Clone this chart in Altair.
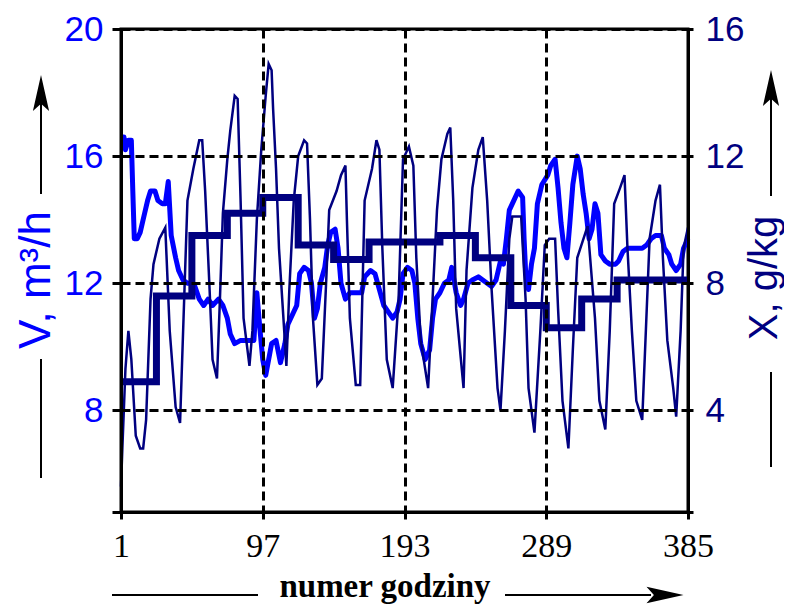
import altair as alt
import pandas as pd

# ---- data ----
# thin navy line: hourly X, g/kg (right axis)
x_hours = [1,2,4,6,8,11,14,16,18,21,23,27,31,34,38,41,44,46,50,54,
           56,58,61,63,66,68,70,73,75,78,80,82,84,88,90,93,96,99,101,103,
           104,106,108,111,113,115,118,121,125,127,129,131,134,137,140,142,147,150,153,154,
           156,160,163,166,171,174,176,178,181,185,189,192,196,199,201,204,209,212,215,218,
           222,224,226,228,233,235,239,243,246,249,252,256,258,261,264,266,272,275,277,281,
           285,288,291,295,297,300,304,307,310,317,322,325,329,332,335,339,342,344,347,350,
           354,359,363,366,368,371,375,377,380,382,385]
x_vals = [1.6,2.9,5.3,6.5,5.6,3.2,2.8,2.8,3.7,7.5,
          8.6,9.4,9.75,6.5,4.1,3.6,7.8,10.6,11.6,12.5,
          12.5,10.9,7.8,5.6,5.0,7.5,10.2,11.9,12.8,13.9,
          13.8,10.6,6.9,5.4,6.5,10.0,12.2,13.9,14.9,14.7,
          13.5,11.6,9.1,6.9,5.4,7.8,10.6,12.0,12.5,12.4,
          10.0,6.9,4.8,5.0,8.1,10.3,10.9,11.4,11.7,10.0,
          6.9,4.8,4.8,10.6,11.6,12.5,12.2,9.1,5.6,4.7,
          7.5,11.9,12.3,11.7,8.8,6.2,4.7,7.5,10.3,11.9,
          12.7,12.9,10.6,7.2,4.7,8.4,11.0,12.2,12.6,10.6,
          7.8,4.7,4.0,6.5,9.4,10.1,10.1,7.5,4.7,3.3,
          6.5,9.2,9.4,9.4,7.2,4.3,2.8,5.9,8.8,9.8,
          6.9,4.3,3.4,6.5,10.5,11.0,11.4,9.1,6.5,4.3,
          3.7,9.4,10.6,11.1,8.8,6.2,4.7,3.8,6.5,9.1,
          9.75]

# thick blue line: V, m3/h (left axis)
v_hours = [1,3,4,6,8,9,10,12,14,17,
           19,21,24,26,29,31,33,35,38,40,
           43,46,48,51,54,57,60,63,67,70,
           73,75,78,82,85,88,91,93,95,97,
           99,101,103,106,109,112,114,117,120,122,
           125,128,130,132,134,136,139,141,143,146,
           148,150,153,156,160,164,166,170,173,176,
           179,182,185,188,190,192,195,198,200,202,
           204,207,210,212,214,217,220,223,225,228,
           231,233,236,239,243,246,249,252,255,258,
           260,262,264,267,270,273,274,275,277,279,
           281,283,286,290,292,295,297,299,301,303,
           305,307,310,312,314,316,318,320,322,324,
           326,329,332,336,338,341,344,349,354,357,
           360,363,367,369,372,374,377,380,382,385]
v_vals = [16.6,16.6,16.2,16.5,16.5,14.9,13.4,13.4,13.6,14.2,
          14.6,14.9,14.9,14.6,14.5,14.5,15.2,13.5,12.8,12.4,
          12.1,12.0,12.0,11.9,11.5,11.3,11.5,11.3,11.5,11.3,
          10.9,10.4,10.1,10.2,10.2,10.2,10.2,11.7,10.6,9.6,
          9.1,9.6,10.1,10.2,9.5,10.1,10.7,11.0,11.3,12.3,
          12.5,12.4,12.0,10.9,11.2,12.0,12.5,13.2,13.6,13.7,
          13.1,12.0,11.5,11.7,11.7,11.7,12.2,12.4,12.3,11.8,
          11.3,11.1,10.9,11.1,11.5,12.3,12.5,12.4,12.0,10.9,
          10.1,9.6,9.9,10.9,11.5,11.7,12.0,12.1,12.5,11.7,
          11.3,11.5,12.0,12.1,12.2,12.1,12.0,11.9,12.1,12.7,
          12.6,13.4,14.3,14.6,14.9,14.7,13.4,12.4,11.8,12.6,
          13.1,14.5,15.1,15.4,15.7,15.9,15.0,13.9,13.1,12.8,
          13.9,15.1,16.0,15.6,14.8,14.2,13.4,13.7,14.5,14.2,
          12.9,12.7,12.6,12.6,12.7,13.0,13.1,13.1,13.1,13.2,
          13.4,13.5,13.5,13.1,12.9,12.6,12.4,12.6,13.1,13.4]

# thick navy step line: daily level of X (right axis)
day_start = [1,25,49,73,97,121,145,169,193,217,241,265,289,313,337,361,385]
day_vals = [4.9,7.6,9.5,10.2,10.7,9.2,8.75,9.3,9.3,9.5,8.8,7.3,6.6,7.5,8.1,8.1,8.1]

x_ticks = [1, 97, 193, 289, 385]
left_ticks = [4.8, 8, 12, 16, 20]
right_ticks = [0.8, 4, 8, 12, 16]

BLUE = "#0000FF"
NAVY = "#000080"
SANS = "Liberation Sans"
SERIF = "Liberation Serif"

df_v = pd.DataFrame({"h": v_hours, "v": v_vals})
df_x = pd.DataFrame({"h": x_hours, "x": x_vals})
df_d = pd.DataFrame({"h": day_start, "x": day_vals})

x_scale = alt.Scale(domain=[1, 385], nice=False, zero=False)
yl_scale = alt.Scale(domain=[4.8, 20], nice=False, zero=False)
yr_scale = alt.Scale(domain=[0.8, 16], nice=False, zero=False)

x_axis = alt.Axis(values=x_ticks, orient="bottom", title=None, grid=True,
                  gridDash=[9, 5], gridColor="black", gridWidth=3, gridOpacity=1,
                  domainColor="black", domainWidth=3, tickColor="black", tickWidth=3,
                  tickSize=7, labelFont=SERIF, labelFontSize=34, labelColor="black",
                  labelPadding=10, labelFlush=False, labelOverlap=False, zindex=1)
left_axis = alt.Axis(values=left_ticks, orient="left", title=None, grid=True,
                     gridDash=[9, 5], gridColor="black", gridWidth=3, gridOpacity=1,
                     domainColor="black", domainWidth=3, tickColor="black", tickWidth=3,
                     tickSize=9, labelFont=SANS, labelFontSize=35, labelColor=BLUE,
                     labelPadding=9, labelExpr="datum.value < 5 ? '' : datum.label",
                     labelFlush=False, labelOverlap=False, zindex=1)
right_axis = alt.Axis(values=right_ticks, orient="right", title=None, grid=False,
                      domainColor="black", domainWidth=3, tickColor="black", tickWidth=3,
                      tickSize=5, labelFont=SANS, labelFontSize=35, labelColor=NAVY,
                      labelPadding=12, labelExpr="datum.value < 1 ? '' : datum.label",
                      labelFlush=False, labelOverlap=False, zindex=1)

X = alt.X("h:Q", scale=x_scale, axis=x_axis)

blue = alt.Chart(df_v).mark_line(color=BLUE, strokeWidth=5, strokeJoin="round").encode(
    x=X,
    y=alt.Y("v:Q", scale=yl_scale, axis=left_axis),
)
thin = alt.Chart(df_x).mark_line(color=NAVY, strokeWidth=2.5).encode(
    x=X,
    y=alt.Y("x:Q", scale=yr_scale, axis=right_axis),
)
step = alt.Chart(df_d).mark_line(color=NAVY, strokeWidth=7, interpolate="step-after").encode(
    x=X,
    y=alt.Y("x:Q", scale=yr_scale, axis=right_axis),
)

one = pd.DataFrame({"a": [0]})


def vline(x, y1, y2):
    return alt.Chart(one).mark_rule(color="black", strokeWidth=2).encode(
        x=alt.value(x), y=alt.value(y1), y2=alt.value(y2))


def hline(x1, x2, y):
    return alt.Chart(one).mark_rule(color="black", strokeWidth=2).encode(
        x=alt.value(x1), x2=alt.value(x2), y=alt.value(y))


def head(shape, size, x, y):
    return alt.Chart(one).mark_point(shape=shape, size=size, filled=True, color="black",
                                     opacity=1, strokeWidth=0).encode(
        x=alt.value(x), y=alt.value(y))


def label(text, x, y, angle, font, size, color, weight="normal"):
    return alt.Chart(pd.DataFrame({"t": [text]})).mark_text(
        angle=angle, font=font, fontSize=size, color=color, fontWeight=weight,
        align="center", baseline="middle").encode(
        text="t:N", x=alt.value(x), y=alt.value(y))


UP = "M0,-1L0.45,1L0,0.6L-0.45,1Z"
RIGHT = "M1,0L-1,-0.45L-0.6,0L-1,0.45Z"

deco = [
    label("V, m³/h", -84, 251, 270, SANS, 44, BLUE),
    vline(-80, 55, 165), head(UP, 1296, -80, 64), vline(-80, 330, 449),
    label("X, g/kg", 644, 249, 270, SANS, 40, NAVY),
    vline(650, 48, 167), head(UP, 1296, 650, 59), vline(650, 343, 438),
    label("numer godziny", 264, 558, 0, SERIF, 33, "black", "bold"),
    hline(-9, 137, 566), hline(384, 530, 566), head(RIGHT, 1369, 544, 566),
]

chart = alt.layer(blue, alt.layer(thin, step), *deco).resolve_scale(
    y="independent"
).properties(
    width=567, height=483,
    padding={"left": 113, "top": 21, "right": 96, "bottom": 95},
    autosize=alt.AutoSizeParams(type="none"),
).configure_view(stroke="black", strokeWidth=3)

chart.save("out.html", embed_options={"renderer": "svg", "actions": False})
